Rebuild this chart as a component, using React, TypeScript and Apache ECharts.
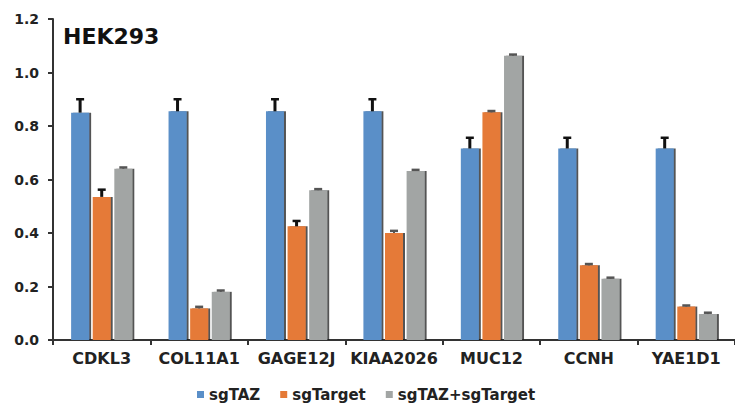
import React, { useEffect, useRef } from "react";
import * as echarts from "echarts";

const categories = ["CDKL3", "COL11A1", "GAGE12J", "KIAA2026", "MUC12", "CCNH", "YAE1D1"];
const seriesNames = ["sgTAZ", "sgTarget", "sgTAZ+sgTarget"];
const sgTAZ = [0.85, 0.855, 0.855, 0.855, 0.716, 0.716, 0.716];
const sgTAZErr = [0.05, 0.045, 0.045, 0.045, 0.04, 0.04, 0.04];
const sgTarget = [0.535, 0.118, 0.425, 0.4, 0.851, 0.279, 0.125];
const sgTargetErr = [0.027, 0.006, 0.02, 0.008, 0.005, 0.005, 0.004];
const combo = [0.64, 0.18, 0.56, 0.632, 1.063, 0.229, 0.097];
const comboErr = [0.005, 0.005, 0.004, 0.004, 0.004, 0.004, 0.005];
const yTicks = [0, 0.2, 0.4, 0.6, 0.8, 1.0, 1.2];

const colors = ["#5a8fc8", "#e57a37", "#a2a5a4"];
const values = [sgTAZ, sgTarget, combo];
const errors = [sgTAZErr, sgTargetErr, comboErr];
const offsets = [-21.6, 0, 21.6];

export default function App() {
  const ref = useRef<HTMLDivElement>(null);
  useEffect(() => {
    if (!ref.current) return;
    const chart = echarts.init(ref.current, undefined, { renderer: "svg" });
    const font = "DejaVu Sans, Verdana, sans-serif";
    const barSeries = values.map((v, i) => ({
      name: seriesNames[i],
      type: "bar",
      data: v,
      barWidth: 18,
      barGap: "20%",
      itemStyle: {
        color: colors[i],
        shadowColor: "rgba(30,30,30,0.75)",
        shadowOffsetX: 2,
        shadowOffsetY: 0,
        shadowBlur: 0,
      },
      z: 2,
    }));
    const errSeries = values.map((v, i) => ({
      name: seriesNames[i] + " err",
      type: "custom",
      data: v.map((val, j) => [j, val, val + errors[i][j]]),
      z: 5,
      renderItem: (params: any, api: any) => {
        const x = api.value(0);
        const lo = api.coord([x, api.value(1)]);
        const hi = api.coord([x, api.value(2)]);
        const cx = lo[0] + offsets[i];
        const big = errors[i][params.dataIndex] > 0.012;
        const stroke = big ? "#111" : "#555";
        return {
          type: "group",
          children: [
            {
              type: "line",
              shape: { x1: cx, y1: lo[1], x2: cx, y2: hi[1] },
              style: { stroke, lineWidth: big ? 3 : 2 },
            },
            {
              type: "line",
              shape: { x1: cx - 4, y1: hi[1], x2: cx + 4, y2: hi[1] },
              style: { stroke, lineWidth: 2.5 },
            },
          ],
        };
      },
    }));
    chart.setOption({
      animation: false,
      title: {
        text: "HEK293",
        left: 58,
        top: 20,
        textStyle: { fontFamily: font, fontSize: 22, fontWeight: "bold", color: "#111" },
      },
      legend: {
        data: seriesNames,
        left: 192,
        top: 382,
        icon: "rect",
        itemWidth: 7,
        itemHeight: 7,
        itemGap: 20,
        textStyle: { fontFamily: font, fontSize: 15, fontWeight: "bold", color: "#222" },
      },
      grid: { left: 53, top: 19, bottom: 67, width: 691 },
      xAxis: {
        type: "category",
        data: categories,
        axisLine: { lineStyle: { color: "#333", width: 2 } },
        axisTick: { show: true, interval: 0, length: 5, lineStyle: { color: "#333", width: 2 } },
        axisLabel: { fontFamily: font, fontSize: 16, fontWeight: "bold", color: "#222", margin: 10, interval: 0 },
      },
      yAxis: {
        type: "value",
        min: 0,
        max: 1.2,
        interval: 0.2,
        axisLine: { show: true, lineStyle: { color: "#333", width: 2 } },
        axisTick: { show: true, length: 5, lineStyle: { color: "#333", width: 2 } },
        splitLine: { show: false },
        axisLabel: {
          fontFamily: font,
          fontSize: 14,
          fontWeight: "bold",
          color: "#222",
          margin: 14,
          formatter: (v: number) => {
            const t = yTicks.find((k) => Math.abs(k - v) < 1e-6);
            return (t !== undefined ? t : v).toFixed(1);
          },
        },
      },
      series: [...barSeries, ...errSeries],
    });
    return () => chart.dispose();
  }, []);
  return (
    <div
      ref={ref}
      style={{ position: "fixed", left: 0, top: 0, width: 735, height: 407, background: "#fff" }}
    />
  );
}
